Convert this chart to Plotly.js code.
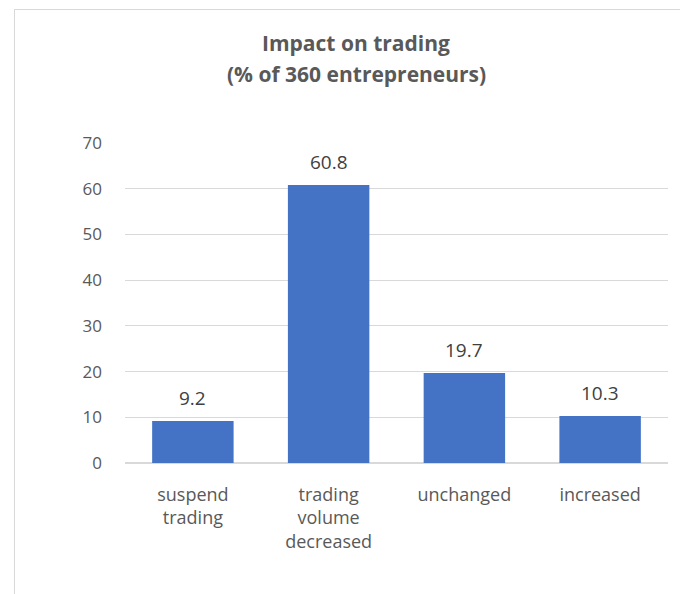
<!DOCTYPE html>
<html>
<head>
<meta charset="utf-8">
<script src="https://cdn.plot.ly/plotly-3.0.1.min.js"></script>
<style>
html,body{margin:0;padding:0;overflow:hidden;background:#fff;}
#frame{position:absolute;left:14px;top:9px;width:800px;height:800px;border:1px solid #d9d9d9;box-sizing:border-box;}
#chart{position:absolute;left:0;top:0;width:680px;height:594px;}
</style>
</head>
<body>
<div id="frame"></div>
<div id="chart"></div>
<script>
var categories = ["suspend<br>trading", "trading<br>volume<br>decreased", "unchanged", "increased"];
var values = [9.2, 60.8, 19.7, 10.3];
var valueLabels = ["9.2", "60.8", "19.7", "10.3"];
var titleLines = ["Impact on trading", "(% of 360 entrepreneurs)"];
var yTicks = [0, 10, 20, 30, 40, 50, 60, 70];

var FONT = "'Open Sans', Lato, sans-serif";

var trace = {
  type: "bar",
  x: categories,
  y: values,
  text: valueLabels,
  textposition: "none",
  marker: {color: "#4472C4"},
  hoverinfo: "none"
};

var annotations = titleLines.map(function(t, i){
  return {
    text: "<b>" + t + "</b>",
    xref: "paper", yref: "paper",
    x: (356 - 125) / 543, xanchor: "center",
    y: 1 + (143 - (43 + i * 31)) / 320, yanchor: "middle",
    showarrow: false,
    font: {family: FONT, size: 21, color: "#595959"}
  };
});
values.forEach(function(v, i){
  annotations.push({
    text: valueLabels[i],
    xref: "x", yref: "y",
    x: categories[i], y: v,
    yanchor: "bottom", yshift: 8,
    showarrow: false,
    font: {family: FONT, size: 19, color: "#404040"}
  });
});

var layout = {
  width: 680, height: 594,
  margin: {l: 125, r: 12, t: 143, b: 131},
  paper_bgcolor: "rgba(0,0,0,0)",
  plot_bgcolor: "rgba(0,0,0,0)",
  bargap: 0.4,
  showlegend: false,
  xaxis: {
    type: "category",
    showgrid: false,
    showline: false,
    zeroline: false,
    ticks: "",
    tickfont: {family: FONT, size: 18, color: "#595959"},
    ticklabelstandoff: 19
  },
  yaxis: {
    range: [0, 70],
    tickvals: yTicks,
    ticktext: yTicks.map(String),
    showgrid: true,
    gridcolor: "#d9d9d9",
    gridwidth: 1,
    zeroline: true,
    zerolinecolor: "#d9d9d9",
    zerolinewidth: 1.5,
    showline: false,
    ticks: "",
    tickfont: {family: FONT, size: 17, color: "#595959"},
    ticklabelstandoff: 22
  },
  annotations: annotations
};

Plotly.newPlot("chart", [trace], layout, {displayModeBar: false, staticPlot: true});
</script>
</body>
</html>
